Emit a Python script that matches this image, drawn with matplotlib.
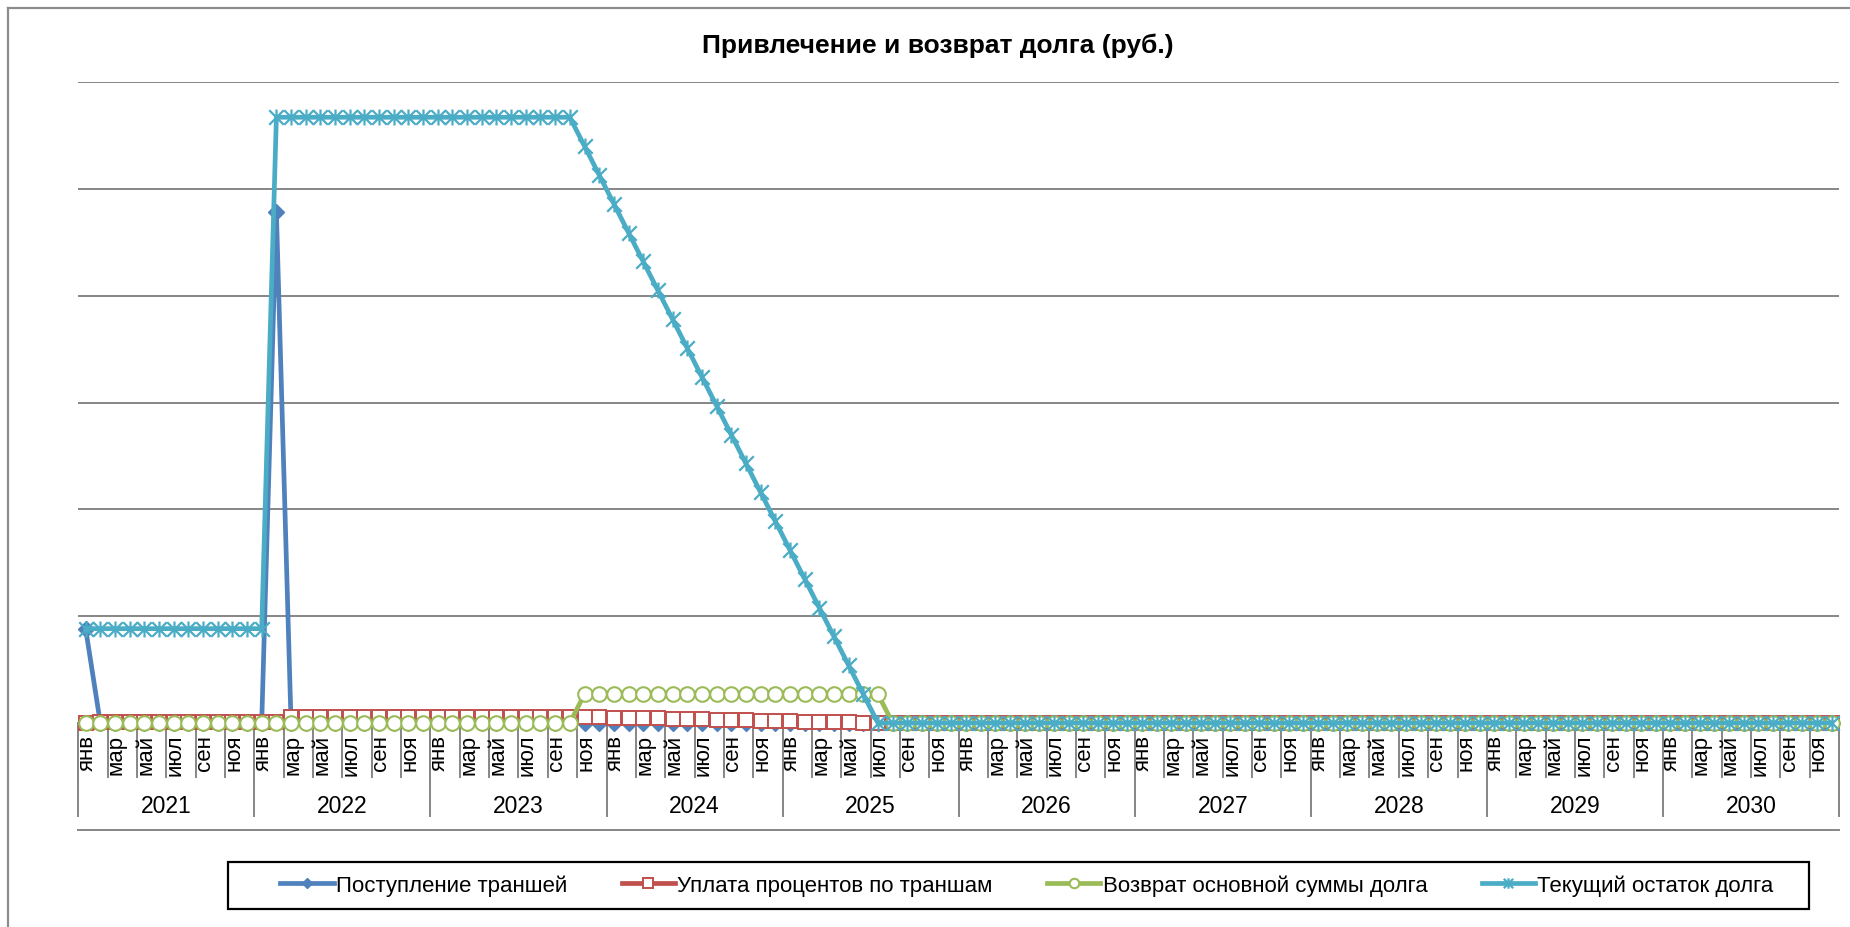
import numpy as np
import matplotlib.pyplot as plt
from matplotlib.path import Path
from matplotlib.lines import Line2D
from matplotlib.patches import Rectangle

plt.rcParams['font.family'] = ['Liberation Sans', 'DejaVu Sans']

# DATA (relative units, one gridline step = 1)
years = ['2021', '2022', '2023', '2024', '2025', '2026', '2027', '2028', '2029', '2030']
month_names = ['янв', 'фев', 'мар', 'апр', 'май', 'июн', 'июл', 'авг', 'сен', 'окт', 'ноя', 'дек']

tranches = [0.883] + [0] * 12 + [4.787] + [0] * 106
interest = ([0] + [0.009] * 13 + [0.0595] * 20 +
            [0.057, 0.054, 0.051, 0.048, 0.045, 0.043, 0.040, 0.037, 0.034, 0.031,
             0.028, 0.026, 0.023, 0.020, 0.017, 0.014, 0.011, 0.009, 0.006, 0.003] +
            [0] * 66)
repayment = [0] * 34 + [0.27] * 21 + [0] * 65
balance = ([0.883] * 13 + [5.67] * 21 +
           [5.40, 5.13, 4.86, 4.59, 4.32, 4.05, 3.78, 3.51, 3.24, 2.97, 2.70,
            2.43, 2.16, 1.89, 1.62, 1.35, 1.08, 0.81, 0.54, 0.27, 0.00] +
           [0] * 65)

labels = ['Поступление траншей', 'Уплата процентов по траншам',
          'Возврат основной суммы долга', 'Текущий остаток долга']

# STYLE
BLUE, RED, GREEN, AQUA = '#4F81BD', '#C0504D', '#9BBB59', '#4BACC6'
GRID = '#868686'
W, H = 1850, 928

star = Path([(-1, -1), (1, 1), (-1, 1), (1, -1), (0, -1.1), (0, 1.1)],
            [Path.MOVETO, Path.LINETO] * 3)

fig = plt.figure(figsize=(18.5, 9.28), dpi=100)
# plot area: x 78..1839 px, y 83..724 px
ax = fig.add_axes([78.3 / W, 1 - 724 / H, (1839 - 78.3) / W, (724 - 83) / H])

x = np.arange(len(balance))

for lev in range(0, 7):
    ax.axhline(lev, color=GRID, lw=1.4, zorder=0)

h1, = ax.plot(x, tranches, color=BLUE, lw=3.4, marker='D', ms=8.5,
              mec=BLUE, mfc=BLUE, clip_on=False, zorder=2)
h2, = ax.plot(x, interest, color=RED, lw=3.4, marker='s', ms=10,
              mec=RED, mfc='white', mew=1.4, clip_on=False, zorder=3)
h3, = ax.plot(x, repayment, color=GREEN, lw=3.4, marker='o', ms=10.5,
              mec=GREEN, mfc='white', mew=1.5, clip_on=False, zorder=4)
h4, = ax.plot(x, balance, color=AQUA, lw=3.4, marker=star, ms=11.5,
              mec=AQUA, mfc='none', mew=1.6, clip_on=False, zorder=5)

ax.set_xlim(-0.5, len(balance) - 0.5)
ax.set_ylim(0, 6)
ax.set_xticks([])
ax.set_yticks([])
for s in ax.spines.values():
    s.set_visible(False)

# multi-level category axis (offsets in axes fraction, axes height = 641 px)
tr = ax.get_xaxis_transform()
for i in range(0, len(balance), 2):
    ax.text(i + 0.1, -0.017, month_names[i % 12], transform=tr, rotation=90,
            ha='center', va='top', fontsize=16)
for k in range(0, len(balance) // 2 + 1):
    ax.plot([2 * k - 0.5] * 2, [0, -0.085], transform=tr, color=GRID,
            lw=1.4, clip_on=False, zorder=0)
for j, yr in enumerate(years):
    ax.text(12 * j + 5.5, -0.128, yr, transform=tr, ha='center',
            va='center', fontsize=16.5)
for j in range(len(years) + 1):
    ax.plot([12 * j - 0.5] * 2, [0, -0.145], transform=tr, color=GRID,
            lw=1.4, clip_on=False, zorder=0)
ax.plot([-0.5, len(balance) - 0.5], [-0.1665, -0.1665], transform=tr,
        color=GRID, lw=1.4, clip_on=False)

fig.text(938 / W, 1 - 46 / H, 'Привлечение и возврат долга (руб.)',
         ha='center', va='center', fontsize=19, fontweight='bold')

# legend: entries centred in an Excel-like box
fig.add_artist(Rectangle((228 / W, 1 - 910 / H), (1809 - 228) / W, 47 / H,
                         transform=fig.transFigure, fill=False,
                         edgecolor='black', lw=1.6))
leg = fig.legend([h1, h2, h3, h4], labels, ncol=4, loc='center',
                 bbox_to_anchor=(1027 / W, 1 - 886.5 / H),
                 fontsize=16, frameon=False, handlelength=2.4,
                 handletextpad=0.1, columnspacing=2.45, markerscale=0.65)

# chart border (top and left visible)
fig.add_artist(Line2D([8 / W, 8 / W], [0, 1 - 9 / H], color='#8c8c8c', lw=1.6))
fig.add_artist(Line2D([8 / W, 1], [1 - 9 / H, 1 - 9 / H], color='#8c8c8c', lw=1.6))

fig.savefig('out.png', dpi=100, facecolor='white')
